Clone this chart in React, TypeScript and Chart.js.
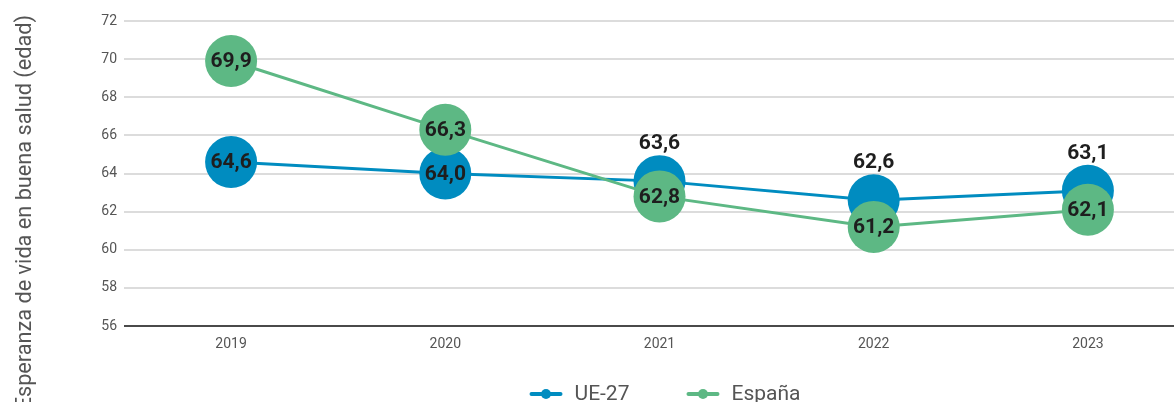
import React, { useEffect, useRef } from 'react';
import { Chart, registerables } from 'chart.js';

Chart.register(...registerables);

const years = ['2019', '2020', '2021', '2022', '2023'];
const ue27 = [64.6, 64.0, 63.6, 62.6, 63.1];
const espana = [69.9, 66.3, 62.8, 61.2, 62.1];
const seriesNames = ['UE-27', 'España'];
const yMin = 56;
const yMax = 72;
const yStep = 2;
const yTitle = 'Esperanza de vida en buena salud (edad)';

const BLUE = '#008CC0';
const GREEN = '#5DB884';
const FONT = 'Roboto, "Noto Sans", sans-serif';
const TEXT = '#555555';

const fmt = (v: number) => v.toFixed(1).replace('.', ',');

const labelPlugin = {
  id: 'valueLabels',
  afterDatasetsDraw(chart: any) {
    const ctx = chart.ctx;
    const mBlue = chart.getDatasetMeta(0);
    const mGreen = chart.getDatasetMeta(1);
    ctx.save();
    ctx.font = `bold 21px ${FONT}`;
    ctx.fillStyle = '#1e1e1e';
    ctx.textAlign = 'center';
    ctx.textBaseline = 'middle';
    ue27.forEach((v, i) => {
      const p = mBlue.data[i];
      const above = Math.abs(v - espana[i]) < 2;
      ctx.fillText(fmt(v), p.x, above ? p.y - 37 : p.y + 1);
    });
    espana.forEach((v, i) => {
      const p = mGreen.data[i];
      ctx.fillText(fmt(v), p.x, p.y + 1);
    });
    ctx.restore();
  },
  afterDraw(chart: any) {
    const ctx = chart.ctx;
    const area = chart.chartArea;
    // y-axis title
    ctx.save();
    ctx.translate(31, 15);
    ctx.rotate(-Math.PI / 2);
    ctx.font = `21.7px ${FONT}`;
    ctx.fillStyle = TEXT;
    ctx.textAlign = 'right';
    ctx.textBaseline = 'alphabetic';
    ctx.fillText(yTitle, 0, 0);
    ctx.restore();

    // legend
    ctx.save();
    ctx.font = `21px ${FONT}`;
    const colors = [BLUE, GREEN];
    const markW = 33;
    const gapText = 12;
    const gapItem = 57;
    const widths = seriesNames.map((t) => ctx.measureText(t).width);
    const total = widths.reduce((a, w) => a + markW + gapText + w, 0) + gapItem * (seriesNames.length - 1);
    let x = (area.left + area.right) / 2 + 5.5 - total / 2;
    const y = 394;
    seriesNames.forEach((t, i) => {
      ctx.strokeStyle = colors[i];
      ctx.fillStyle = colors[i];
      ctx.lineWidth = 4;
      ctx.lineCap = 'round';
      ctx.beginPath();
      ctx.moveTo(x + 2, y);
      ctx.lineTo(x + markW - 2, y);
      ctx.stroke();
      ctx.beginPath();
      ctx.arc(x + markW / 2, y, 5, 0, Math.PI * 2);
      ctx.fill();
      ctx.fillStyle = TEXT;
      ctx.textAlign = 'left';
      ctx.textBaseline = 'middle';
      ctx.fillText(t, x + markW + gapText, y + 1);
      x += markW + gapText + widths[i] + gapItem;
    });
    ctx.restore();
  },
};

export default function App() {
  const ref = useRef<HTMLCanvasElement | null>(null);

  useEffect(() => {
    if (!ref.current) return;
    const chart = new Chart(ref.current, {
      type: 'line',
      data: {
        labels: years,
        datasets: [
          {
            label: seriesNames[0],
            data: ue27,
            borderColor: BLUE,
            backgroundColor: BLUE,
            pointBackgroundColor: BLUE,
            pointBorderWidth: 0,
            pointRadius: 26,
            pointHoverRadius: 26,
            borderWidth: 3,
            tension: 0,
            order: 2,
            clip: false as any,
          },
          {
            label: seriesNames[1],
            data: espana,
            borderColor: GREEN,
            backgroundColor: GREEN,
            pointBackgroundColor: GREEN,
            pointBorderWidth: 0,
            pointRadius: 26,
            pointHoverRadius: 26,
            borderWidth: 3,
            tension: 0,
            order: 1,
            clip: false as any,
          },
        ],
      },
      options: {
        responsive: false,
        animation: false,
        events: [],
        layout: { autoPadding: false, padding: { top: 21, left: 0, right: 15, bottom: 46 } },
        plugins: {
          legend: { display: false },
          tooltip: { enabled: false },
          title: { display: false },
        },
        scales: {
          x: {
            offset: true,
            grid: { display: false, drawTicks: false },
            border: { display: false },
            ticks: { color: TEXT, font: { family: FONT, size: 14 }, padding: 10 },
            afterFit: (s: any) => {
              s.height = 30;
            },
          },
          y: {
            min: yMin,
            max: yMax,
            grid: {
              drawTicks: false,
              lineWidth: 2,
              color: (c: any) => (c.tick && c.tick.value === yMin ? '#4a4a4a' : '#dcdcdc'),
            },
            border: { display: false },
            ticks: { stepSize: yStep, color: TEXT, font: { family: FONT, size: 14 }, padding: 7 },
            afterFit: (s: any) => {
              s.width = 124;
            },
          },
        },
      },
      plugins: [labelPlugin],
    });
    return () => chart.destroy();
  }, []);

  return (
    <div style={{ position: 'fixed', left: 0, top: 0, width: 1174, height: 402, overflow: 'hidden', background: '#fff' }}>
      <canvas ref={ref} width={1210} height={402} style={{ width: 1210, height: 402, display: 'block' }} />
    </div>
  );
}
